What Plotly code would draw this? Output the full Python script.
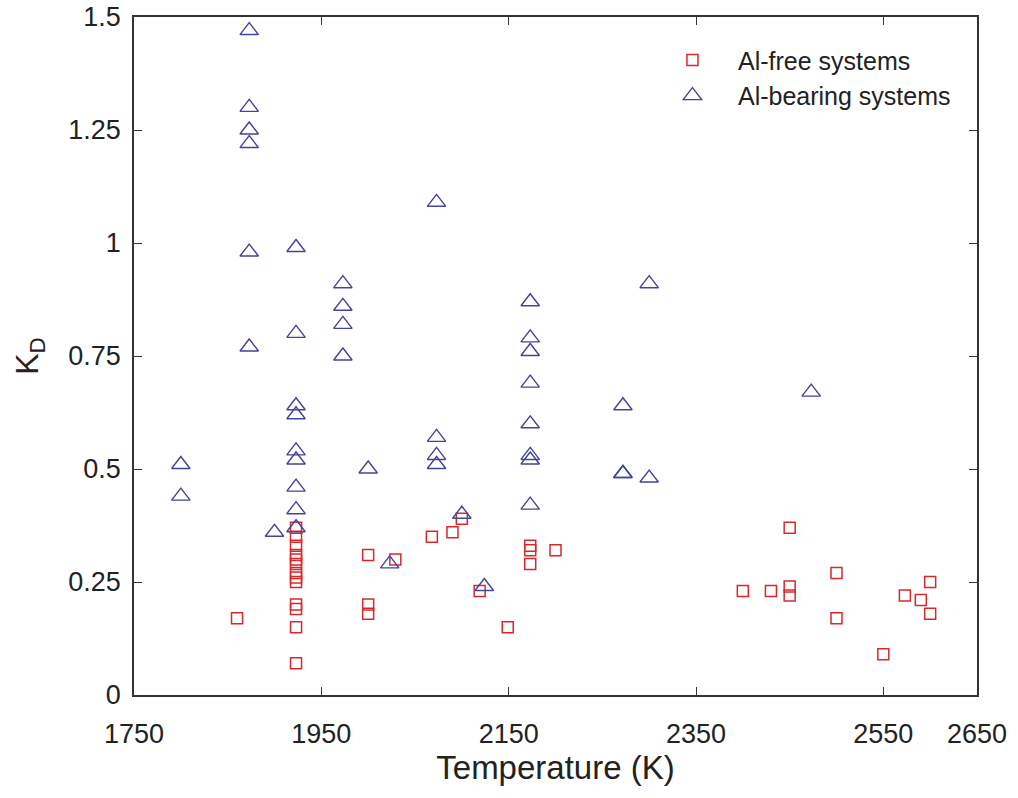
import plotly.graph_objects as go

# Al-free systems (squares)
free_T = [1860,
          1923, 1923, 1923, 1923, 1923, 1923, 1923, 1923, 1923, 1923, 1923, 1923, 1923,
          2000, 2000, 2000, 2029, 2068, 2090, 2100, 2119, 2149,
          2173, 2173, 2173, 2200,
          2400, 2430, 2450, 2450, 2450, 2500, 2500, 2550, 2573, 2590, 2600, 2600]
free_K = [0.17,
          0.37, 0.35, 0.33, 0.31, 0.30, 0.29, 0.27, 0.26, 0.25, 0.20, 0.19, 0.15, 0.07,
          0.31, 0.20, 0.18, 0.30, 0.35, 0.36, 0.39, 0.23, 0.15,
          0.33, 0.32, 0.29, 0.32,
          0.23, 0.23, 0.37, 0.24, 0.22, 0.27, 0.17, 0.09, 0.22, 0.21, 0.25, 0.18]

# Al-bearing systems (triangles)
bear_T = [1800, 1800,
          1873, 1873, 1873, 1873, 1873, 1873,
          1900,
          1923, 1923, 1923, 1923, 1923, 1923, 1923, 1923, 1923,
          1973, 1973, 1973, 1973,
          2000, 2023,
          2073, 2073, 2073, 2073,
          2100, 2124,
          2173, 2173, 2173, 2173, 2173, 2173, 2173, 2173,
          2272, 2272, 2272,
          2300, 2300,
          2473]
bear_K = [0.51, 0.44,
          1.47, 1.30, 1.25, 1.22, 0.98, 0.77,
          0.36,
          0.99, 0.80, 0.64, 0.62, 0.54, 0.52, 0.46, 0.41, 0.37,
          0.91, 0.86, 0.82, 0.75,
          0.50, 0.29,
          1.09, 0.57, 0.53, 0.51,
          0.40, 0.24,
          0.87, 0.79, 0.76, 0.69, 0.60, 0.53, 0.52, 0.42,
          0.64, 0.49, 0.49,
          0.91, 0.48,
          0.67]

x_ticks = [1750, 1950, 2150, 2350, 2550, 2650]
y_ticks = [0, 0.25, 0.5, 0.75, 1, 1.25, 1.5]
y_tick_text = ["0", "0.25", "0.5", "0.75", "1", "1.25", "1.5"]

RED = "#d8282c"
BLUE = "#43449a"
FONT = "Liberation Sans, Arial, sans-serif"
TXT = "#222222"

fig = go.Figure()
fig.add_trace(go.Scatter(
    x=free_T, y=free_K, mode="markers", name="Al-free systems",
    marker=dict(symbol="square-open", size=11, color=RED, line=dict(width=1.5, color=RED)),
))
fig.add_trace(go.Scatter(
    x=bear_T, y=bear_K, mode="markers", name="Al-bearing systems",
    marker=dict(symbol="triangle-up-open", size=16, color=BLUE, line=dict(width=1.4, color=BLUE)),
))

axis_common = dict(
    showline=True, linecolor="#333333", linewidth=1.5, mirror="ticks",
    ticks="inside", ticklen=8, tickwidth=1.3, tickcolor="#333333",
    showgrid=False, zeroline=False, automargin=False,
    tickfont=dict(family=FONT, size=27, color=TXT),
)

fig.update_layout(
    width=1018, height=798,
    margin=dict(l=134, r=41, t=17, b=103, autoexpand=False),
    paper_bgcolor="white", plot_bgcolor="white",
    font=dict(family=FONT, color=TXT),
    showlegend=True,
    legend=dict(
        x=0.6085, y=0.97, xanchor="left", yanchor="top",
        bgcolor="rgba(255,255,255,0)", borderwidth=0,
        font=dict(family=FONT, size=25, color=TXT),
        itemwidth=81, tracegroupgap=0,
    ),
    xaxis=dict(
        range=[1750, 2650], tickvals=x_ticks, ticktext=[str(v) for v in x_ticks],
        ticklabelstandoff=14,
        title=dict(text="Temperature (K)", font=dict(family=FONT, size=33, color=TXT), standoff=8),
        **axis_common,
    ),
    yaxis=dict(
        range=[0, 1.5], tickvals=y_ticks, ticktext=y_tick_text,
        ticklabelstandoff=6,
        title=dict(text="K<sub>D</sub>", font=dict(family=FONT, size=32, color=TXT), standoff=20),
        **axis_common,
    ),
)

fig.write_html("out.html")
